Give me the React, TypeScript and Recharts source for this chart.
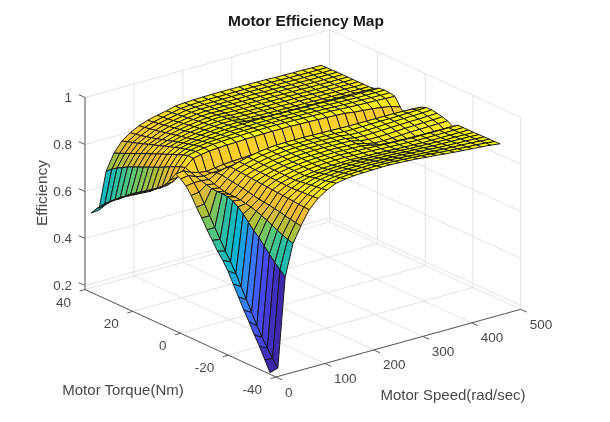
import { Scatter, ScatterChart, XAxis, YAxis } from "recharts";

const WIDTH = 610;
const HEIGHT = 422;

// axis ticks
const speedTicks = [0, 100, 200, 300, 400, 500];
const torqueTicks = [-40, -20, 0, 20, 40];
const efficiencyTicks = [0.2, 0.4, 0.6, 0.8, 1];

// surface grid
const speeds = [0, 16, 31, 47, 63, 80, 98, 116, 135, 154, 172, 191, 209, 228, 246, 265, 283, 302, 320, 339, 357, 376, 394, 413, 432, 451, 470];
const torques = [-37.5, -35.3, -33.1, -30.9, -28.7, -26.5, -24.3, -22.1, -19.9, -17.7, -15.5, -13.3, -11.1, -8.9, -6.7, -4.5, -2.3, -0.1, 2.1, 4.3, 6.5, 8.7, 10.9, 13.1, 15.3, 17.5, 19.7, 21.9, 24.1, 26.3, 28.5, 30.7, 32.9, 35.1, 37.5];

// one row per speed, one value per torque
const efficiency = [
  [.19, .235, .28, .32, .365, .405, .45, .495, .54, .575, .605, .64, .675, .715, .75, .79, .82, .84, .85, .815, .785, .76, .745, .725, .71, .695, .68, .665, .65, .63, .615, .595, .575, .55, .52],
  [.2, .23, .265, .3, .34, .385, .43, .475, .52, .56, .595, .635, .675, .715, .755, .795, .825, .845, .855, .819, .789, .764, .749, .729, .714, .699, .684, .669, .654, .634, .619, .599, .579, .554, .523],
  [.579, .6, .62, .645, .67, .695, .715, .74, .765, .785, .8, .808, .81, .81, .812, .818, .825, .832, .84, .85, .843, .833, .823, .811, .8, .79, .78, .77, .76, .75, .74, .727, .715, .7, .68],
  [.712, .72, .728, .738, .75, .76, .77, .778, .786, .79, .795, .797, .798, .799, .805, .812, .82, .825, .83, .88, .882, .874, .865, .856, .846, .837, .827, .817, .808, .798, .788, .778, .768, .758, .748],
  [.778, .782, .786, .79, .796, .8, .804, .807, .81, .815, .82, .825, .828, .832, .836, .84, .84, .83, .825, .887, .89, .885, .879, .873, .866, .859, .851, .843, .836, .828, .82, .812, .805, .798, .79],
  [.837, .838, .84, .842, .844, .846, .848, .85, .852, .854, .856, .858, .86, .862, .864, .866, .85, .83, .83, .892, .895, .892, .887, .881, .875, .869, .862, .855, .849, .842, .836, .83, .825, .82, .815],
  [.875, .873, .871, .87, .868, .867, .868, .869, .87, .871, .872, .873, .874, .875, .876, .877, .855, .83, .835, .895, .9, .897, .892, .887, .882, .877, .872, .867, .862, .857, .852, .847, .843, .839, .835],
  [.9, .896, .893, .89, .887, .884, .88, .88, .881, .882, .882, .883, .884, .885, .886, .887, .86, .835, .838, .897, .902, .9, .896, .892, .888, .884, .88, .875, .871, .867, .863, .859, .855, .851, .848],
  [.918, .913, .908, .903, .899, .894, .889, .889, .89, .89, .89, .891, .892, .893, .894, .895, .862, .838, .84, .898, .904, .902, .899, .896, .892, .889, .885, .882, .878, .875, .871, .867, .864, .861, .858],
  [.925, .92, .915, .91, .905, .9, .895, .895, .895, .895, .895, .896, .897, .898, .899, .9, .865, .84, .842, .9, .905, .904, .902, .899, .896, .893, .89, .887, .884, .881, .878, .875, .872, .869, .866],
  [.929, .924, .919, .914, .909, .904, .899, .899, .899, .899, .9, .9, .901, .902, .903, .904, .865, .84, .843, .901, .907, .906, .903, .901, .898, .896, .893, .891, .888, .886, .883, .881, .879, .877, .876],
  [.931, .926, .921, .916, .911, .906, .901, .901, .901, .901, .901, .902, .903, .904, .904, .905, .865, .84, .844, .902, .907, .906, .904, .902, .899, .897, .895, .893, .89, .888, .886, .884, .882, .88, .879],
  [.932, .927, .922, .917, .912, .907, .902, .902, .902, .902, .902, .903, .903, .904, .904, .905, .865, .84, .844, .902, .908, .907, .905, .903, .893, .89, .889, .888, .887, .886, .885, .884, .883, .882, .881],
  [.933, .928, .923, .918, .913, .908, .903, .903, .903, .903, .903, .903, .903, .904, .904, .905, .865, .84, .844, .902, .908, .907, .905, .904, .891, .888, .888, .887, .886, .886, .885, .884, .883, .883, .882],
  [.933, .928, .922, .917, .912, .906, .901, .901, .901, .901, .902, .902, .902, .903, .903, .904, .865, .84, .843, .902, .907, .906, .905, .904, .89, .887, .887, .886, .885, .885, .885, .884, .884, .883, .883],
  [.931, .926, .921, .915, .91, .905, .9, .9, .9, .9, .9, .901, .901, .902, .902, .903, .865, .84, .842, .9, .906, .906, .904, .903, .889, .886, .886, .885, .885, .885, .884, .884, .884, .883, .883],
  [.929, .924, .919, .914, .909, .904, .899, .899, .899, .899, .899, .9, .9, .901, .901, .902, .865, .84, .841, .9, .905, .905, .904, .902, .888, .885, .885, .885, .885, .884, .884, .884, .884, .883, .883],
  [.926, .921, .916, .912, .907, .902, .897, .897, .897, .892, .888, .89, .892, .895, .898, .901, .865, .84, .84, .898, .904, .904, .903, .902, .888, .885, .885, .885, .884, .884, .884, .884, .884, .883, .883],
  [.922, .918, .913, .909, .904, .9, .895, .895, .895, .883, .88, .885, .89, .893, .897, .9, .865, .84, .838, .897, .903, .903, .902, .9, .887, .884, .884, .884, .884, .884, .884, .883, .883, .883, .883],
  [.919, .915, .91, .906, .902, .897, .893, .893, .893, .88, .879, .885, .891, .894, .898, .9, .865, .84, .837, .895, .902, .902, .901, .9, .887, .884, .884, .884, .884, .883, .883, .883, .883, .882, .882],
  [.915, .911, .907, .904, .9, .896, .892, .892, .892, .879, .88, .886, .892, .895, .899, .9, .865, .84, .836, .893, .9, .9, .9, .899, .886, .883, .883, .883, .883, .883, .883, .882, .882, .882, .882],
  [.911, .908, .904, .9, .897, .894, .89, .89, .89, .877, .882, .888, .894, .897, .9, .9, .865, .84, .833, .887, .898, .898, .898, .897, .886, .882, .882, .882, .882, .882, .882, .881, .881, .881, .88],
  [.908, .905, .902, .899, .896, .893, .89, .89, .89, .876, .884, .89, .895, .899, .9, .9, .866, .845, .832, .884, .896, .897, .897, .896, .885, .882, .882, .881, .881, .881, .881, .881, .88, .88, .88],
  [.905, .902, .9, .897, .895, .892, .89, .89, .89, .876, .885, .891, .896, .9, .901, .9, .868, .85, .83, .88, .895, .897, .896, .895, .885, .881, .881, .881, .881, .881, .88, .88, .88, .88, .879],
  [.902, .9, .898, .896, .894, .892, .89, .89, .89, .875, .886, .892, .897, .901, .902, .899, .87, .85, .828, .875, .894, .896, .896, .895, .884, .881, .881, .881, .88, .88, .88, .88, .88, .879, .879],
  [.898, .897, .895, .894, .893, .891, .89, .89, .89, .875, .887, .893, .898, .902, .903, .898, .872, .855, .826, .868, .892, .895, .896, .894, .883, .88, .88, .88, .88, .88, .88, .88, .879, .879, .878],
  [.893, .892, .892, .891, .891, .89, .89, .89, .89, .875, .888, .895, .9, .904, .904, .895, .875, .86, .825, .855, .89, .895, .896, .894, .883, .88, .88, .88, .88, .88, .88, .88, .879, .879, .878],
];

const Z_FLOOR = 0.183;
const Z_TOP = 1;
const COLOR_MIN = 0.19;
const COLOR_MAX = 0.9;

const PARULA = [
  [62, 38, 168],
  [71, 71, 235],
  [62, 111, 255],
  [39, 150, 235],
  [8, 181, 208],
  [35, 188, 172],
  [95, 200, 115],
  [178, 191, 60],
  [240, 186, 55],
  [253, 208, 42],
  [249, 251, 14],
];

const FONT = "'Liberation Sans', Arial, Helvetica, sans-serif";
const TEXT_COLOR = "#484848";

interface ScreenPoint {
  px: number;
  py: number;
  text?: string;
}

// fixed MATLAB-like orthographic view, gives chart coordinates for the hidden axes
function project(speed: number, torque: number, z: number): ScreenPoint {
  return {
    px: 85 + speed * 0.4894 + (40 - torque) * 2.3875,
    py: 289.5 - speed * 0.1354 + (40 - torque) * 1.094 - (z - Z_FLOOR) * 235,
  };
}

function surfaceColor(z: number): string {
  const f = Math.pow(Math.min(Math.max((z - COLOR_MIN) / (COLOR_MAX - COLOR_MIN), 0), 1), 1.2);
  const pos = f * (PARULA.length - 1);
  const i = Math.min(Math.floor(pos), PARULA.length - 2);
  const t = pos - i;
  const c = PARULA[i].map((v, k) => Math.round(v + (PARULA[i + 1][k] - v) * t));
  return `rgb(${c[0]},${c[1]},${c[2]})`;
}

const surfaceVertices: ScreenPoint[] = speeds.flatMap((speed, i) =>
  torques.map((torque, j) => project(speed, torque, efficiency[i][j]))
);

const gridSegments: ScreenPoint[] = [
  ...speedTicks.flatMap((s) => [project(s, -40, Z_FLOOR), project(s, 40, Z_FLOOR), project(s, 40, Z_FLOOR), project(s, 40, Z_TOP)]),
  ...torqueTicks.flatMap((t) => [project(0, t, Z_FLOOR), project(500, t, Z_FLOOR), project(500, t, Z_FLOOR), project(500, t, Z_TOP)]),
  ...efficiencyTicks.flatMap((z) => [project(0, 40, z), project(500, 40, z), project(500, 40, z), project(500, -40, z)]),
];

const axisSegments: ScreenPoint[] = [
  project(0, -40, Z_FLOOR), project(500, -40, Z_FLOOR),
  project(0, -40, Z_FLOOR), project(0, 40, Z_FLOOR),
  project(0, 40, Z_FLOOR), project(0, 40, Z_TOP),
  ...speedTicks.flatMap((s) => [project(s, -40, Z_FLOOR), project(s, -42.6, Z_FLOOR)]),
  ...torqueTicks.flatMap((t) => [project(0, t, Z_FLOOR), project(-11, t, Z_FLOOR)]),
  ...efficiencyTicks.flatMap((z) => [project(0, 40, z), project(0, 42.6, z)]),
];

const speedLabels = speedTicks.map((s) => ({ ...project(s, -40, Z_FLOOR), text: String(s) }));
const torqueLabels = torqueTicks.map((t) => ({ ...project(0, t, Z_FLOOR), text: String(t) }));
const efficiencyLabels = efficiencyTicks.map((z) => ({ ...project(0, 40, z), text: String(z) }));

function SurfaceMesh({ points }: { points: { x: number; y: number }[] }) {
  const rows = speeds.length;
  const cols = torques.length;
  const cells = [];
  // painter's order: far corner (high speed, high torque) first
  for (let i = rows - 2; i >= 0; i--) {
    for (let j = cols - 2; j >= 0; j--) {
      const a = points[i * cols + j];
      const b = points[i * cols + j + 1];
      const c = points[(i + 1) * cols + j + 1];
      const d = points[(i + 1) * cols + j];
      cells.push(
        <path
          key={`${i}-${j}`}
          d={`M${a.x},${a.y}L${b.x},${b.y}L${c.x},${c.y}L${d.x},${d.y}Z`}
          fill={surfaceColor(efficiency[i][j])}
          stroke="#141414"
          strokeWidth={0.95}
          strokeLinejoin="round"
        />
      );
    }
  }
  return <g>{cells}</g>;
}

function segmentRenderer(stroke: string, strokeWidth: number) {
  return ({ points }: { points: { x: number; y: number }[] }) => {
    const lines = [];
    for (let i = 0; i + 1 < points.length; i += 2) {
      lines.push(
        <line key={i} x1={points[i].x} y1={points[i].y} x2={points[i + 1].x} y2={points[i + 1].y} stroke={stroke} strokeWidth={strokeWidth} />
      );
    }
    return <g>{lines}</g>;
  };
}

function tickText(dx: number, dy: number, anchor: "start" | "end") {
  return (props: any) => (
    <text x={props.cx + dx} y={props.cy + dy} textAnchor={anchor} dominantBaseline="central" fontFamily={FONT} fontSize={13.5} fill={TEXT_COLOR}>
      {props.payload.text}
    </text>
  );
}

const noDot = () => <g />;

export default function App() {
  return (
    <div style={{ position: "absolute", left: 0, top: 0, width: WIDTH, height: HEIGHT, background: "#fff", filter: "blur(0.4px)" }}>
      <ScatterChart width={WIDTH} height={HEIGHT} margin={{ top: 0, right: 0, bottom: 0, left: 0 }}>
        <XAxis type="number" dataKey="px" domain={[0, WIDTH]} hide />
        <YAxis type="number" dataKey="py" domain={[0, HEIGHT]} reversed hide />
        <Scatter data={gridSegments} line={segmentRenderer("#e1e1e1", 1)} shape={noDot} isAnimationActive={false} />
        <Scatter data={surfaceVertices} line={SurfaceMesh as any} shape={noDot} isAnimationActive={false} />
        <Scatter data={axisSegments} line={segmentRenderer("#5a5a5a", 1)} shape={noDot} isAnimationActive={false} />
        <Scatter data={speedLabels} shape={tickText(9, 15, "start")} isAnimationActive={false} />
        <Scatter data={torqueLabels} shape={tickText(-14, 12.5, "end")} isAnimationActive={false} />
        <Scatter data={efficiencyLabels} shape={tickText(-13, 0, "end")} isAnimationActive={false} />
        <text x={306} y={20} textAnchor="middle" dominantBaseline="central" fontFamily={FONT} fontSize={15.5} fontWeight="bold" fill="#1a1a1a">
          Motor Efficiency Map
        </text>
        <text x={123} y={389} textAnchor="middle" dominantBaseline="central" fontFamily={FONT} fontSize={15} fill={TEXT_COLOR}>
          Motor Torque(Nm)
        </text>
        <text x={453} y={394} textAnchor="middle" dominantBaseline="central" fontFamily={FONT} fontSize={15} fill={TEXT_COLOR}>
          Motor Speed(rad/sec)
        </text>
        <text x={41} y={193} textAnchor="middle" dominantBaseline="central" fontFamily={FONT} fontSize={15.5} fill={TEXT_COLOR} transform="rotate(-90 41 193)">
          Efficiency
        </text>
      </ScatterChart>
    </div>
  );
}
